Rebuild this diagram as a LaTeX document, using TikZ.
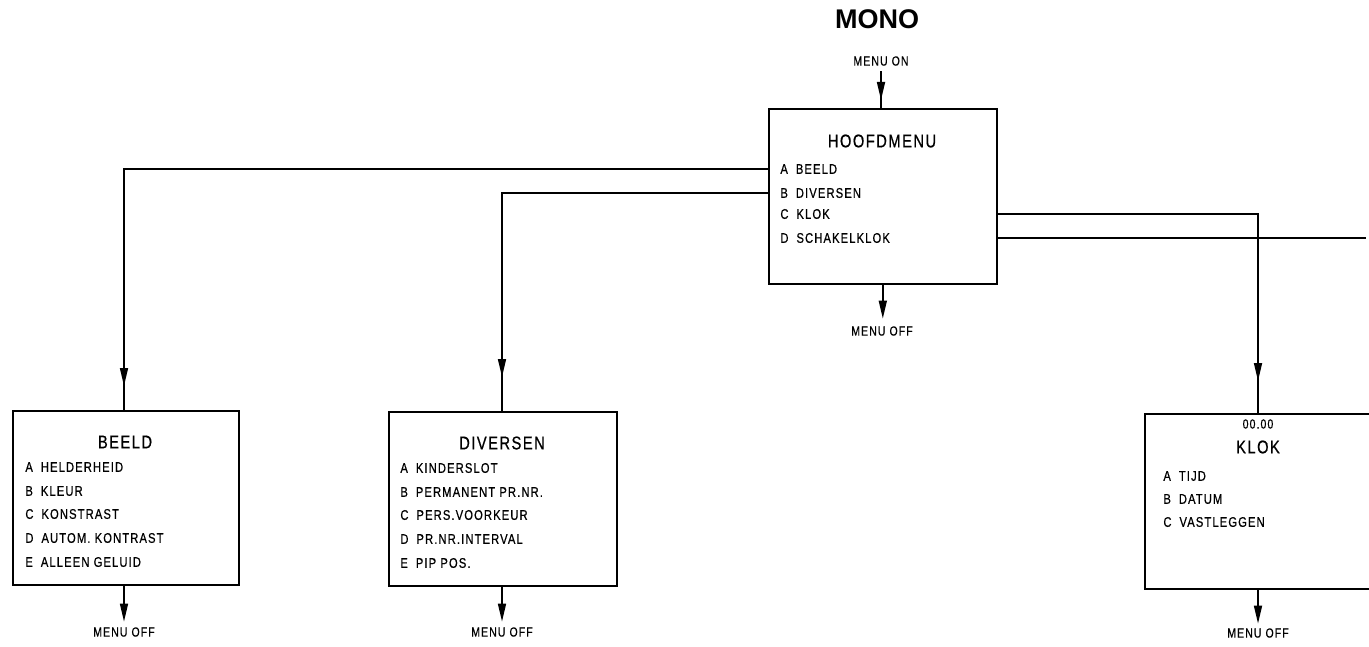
\documentclass[tikz,border=0pt]{standalone}
\usepackage{fontspec}
\setmainfont{Liberation Sans}
\newfontfamily\cond{Liberation Sans}[FakeStretch=0.8,LetterSpace=8,FakeBold=0.6]
\usetikzlibrary{arrows.meta,decorations.markings}
\newcommand{\mitem}[2]{#1\hspace{4pt}#2}
\tikzset{
  x=0.5pt,y=-0.5pt,
  item/.style={anchor=west,inner sep=0pt,font=\cond\fontsize{7}{8}\selectfont},
  ttl/.style={inner sep=0pt,font=\cond\fontsize{9.2}{11}\selectfont},
  small/.style={inner sep=0pt,font=\cond\fontsize{6.6}{7}\selectfont},
  wire/.style={line width=0.8pt},
  arr/.style={line width=0.8pt,-{Triangle[length=9pt,width=4pt]}},
  midarr/.style={line width=0.8pt,postaction={decorate},
    decoration={markings,mark=at position #1 with {\arrow{Triangle[length=9pt,width=4pt]}}}}
}
\begin{document}
\begin{tikzpicture}
\useasboundingbox (0,0) rectangle (1369,647);
\clip (0,0) rectangle (1369,647);
% title
\node[inner sep=0pt,font=\bfseries\fontsize{13.5}{15}\selectfont] (mono) at (877,19) {MONO};
% HOOFDMENU
\node[draw,line width=0.8pt,minimum width=114pt,minimum height=87.5pt,anchor=north west,inner sep=0pt] (hoofd) at (768,108) {};
\node[small] (menuon) at (881,61) {MENU ON};
\node[ttl] (htitle) at (882,141) {HOOFDMENU};
\node[item] (hA) at (780,169) {\mitem{A}{BEELD}};
\node[item] (hB) at (780,193) {\mitem{B}{DIVERSEN}};
\node[item] (hC) at (780,214) {\mitem{C}{KLOK}};
\node[item] (hD) at (780,238) {\mitem{D}{SCHAKELKLOK}};
\node[small] (hoff) at (882,331) {MENU OFF};
\draw[midarr=-4pt] (menuon.south) ++(0,5) -- (hoofd.north -| menuon.south);
\draw[arr] (hoofd.south) -- ++(0,34);
% BEELD
\node[draw,line width=0.8pt,minimum width=113pt,minimum height=87pt,anchor=north west,inner sep=0pt] (beeld) at (12,410) {};
\node[ttl] (btitle) at (125,442) {BEELD};
\node[item] (bA) at (25,467) {\mitem{A}{HELDERHEID}};
\node[item] (bB) at (25,491) {\mitem{B}{KLEUR}};
\node[item] (bC) at (25,514) {\mitem{C}{KONSTRAST}};
\node[item] (bD) at (25,538) {\mitem{D}{AUTOM. KONTRAST}};
\node[item] (bE) at (25,562) {\mitem{E}{ALLEEN GELUID}};
\node[small] (boff) at (124,632) {MENU OFF};
% DIVERSEN
\node[draw,line width=0.8pt,minimum width=114pt,minimum height=87pt,anchor=north west,inner sep=0pt] (div) at (388,411) {};
\node[ttl] (dtitle) at (502,443) {DIVERSEN};
\node[item] (dA) at (400,468) {\mitem{A}{KINDERSLOT}};
\node[item] (dB) at (400,492) {\mitem{B}{PERMANENT PR.NR.}};
\node[item] (dC) at (400,515) {\mitem{C}{PERS.VOORKEUR}};
\node[item] (dD) at (400,539) {\mitem{D}{PR.NR.INTERVAL}};
\node[item] (dE) at (400,563) {\mitem{E}{PIP POS.}};
\node[small] (doff) at (502,632) {MENU OFF};
% KLOK
\node[draw,line width=0.8pt,minimum width=160pt,minimum height=87.5pt,anchor=north west,inner sep=0pt] (klok) at (1144,413) {};
\node[small] (ktime) at (1258,424) {00.00};
\node[ttl] (ktitle) at (1258,447) {KLOK};
\node[item] (kA) at (1163,476) {\mitem{A}{TIJD}};
\node[item] (kB) at (1163,499) {\mitem{B}{DATUM}};
\node[item] (kC) at (1163,522) {\mitem{C}{VASTLEGGEN}};
\node[small] (koff) at (1258,633) {MENU OFF};
\coordinate (kx) at (1258,0);
% connectors
\draw[midarr=-12pt] (hoofd.west |- hA) -| (beeld.north -| boff);
\draw[midarr=-17pt] (hoofd.west |- hB) -| (div.north -| doff);
\draw[midarr=-16pt] (hoofd.east |- hC) -| (klok.north -| kx);
\coordinate (edge) at (1366,0);
\draw[wire] (hoofd.east |- hD) -- (edge |- hD);
\draw[arr] (beeld.south -| boff) -- ++(0,36);
\draw[arr] (div.south -| doff) -- ++(0,35);
\draw[arr] (klok.south -| koff) -- ++(0,34);
\end{tikzpicture}
\end{document}
